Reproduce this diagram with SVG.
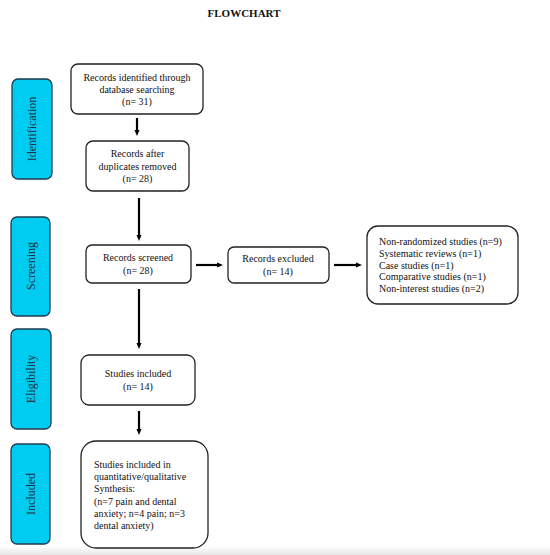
<svg xmlns="http://www.w3.org/2000/svg" width="550" height="555" viewBox="0 0 550 555">
<defs>
<style>
.box{fill:#fff;stroke:#222;stroke-width:1.3}
.side{fill:#00CCF2;stroke:#1d3d4d;stroke-width:1.3}
.t{font-family:"Liberation Serif","Times New Roman",serif;font-size:10px;fill:#111}
.c{text-anchor:middle}
.s{font-family:"Liberation Serif","Times New Roman",serif;font-size:12px;fill:#1f2f3f;text-anchor:middle}
.ln{stroke:#000;stroke-width:2.2;fill:none}
</style>
<marker id="ah" markerWidth="6" markerHeight="6" refX="3" refY="3" orient="auto" markerUnits="userSpaceOnUse">
<path d="M0,0.5 L6,3 L0,5.5 Z" fill="#000"/>
</marker>
<linearGradient id="bot" x1="0" y1="0" x2="0" y2="1">
<stop offset="0" stop-color="#fff"/>
<stop offset="1" stop-color="#e6e6e6"/>
</linearGradient>
</defs>
<rect x="0" y="0" width="550" height="555" fill="#fff"/>
<rect x="0" y="546" width="550" height="9" fill="url(#bot)"/>
<text x="244" y="17" font-family="Liberation Serif,serif" font-size="11px" font-weight="bold" text-anchor="middle" fill="#111">FLOWCHART</text>

<g id="side-identification"><rect class="side" x="12" y="79" width="40" height="100" rx="6"/><text class="s" transform="translate(36,129) rotate(-90)">Identification</text></g>
<g id="side-screening"><rect class="side" x="11" y="217" width="39" height="99" rx="6"/><text class="s" transform="translate(35,266) rotate(-90)">Screening</text></g>
<g id="side-eligibility"><rect class="side" x="11" y="329" width="40" height="100" rx="6"/><text class="s" transform="translate(35,379) rotate(-90)">Eligibility</text></g>
<g id="side-included"><rect class="side" x="11" y="444" width="39" height="100" rx="6"/><text class="s" transform="translate(35,494) rotate(-90)">Included</text></g>

<g id="connectors">
<line class="ln" x1="137" y1="118" x2="137" y2="133" marker-end="url(#ah)"/>
<line class="ln" x1="139" y1="198" x2="139" y2="238" marker-end="url(#ah)"/>
<line class="ln" x1="139" y1="289" x2="139" y2="346" marker-end="url(#ah)"/>
<line class="ln" x1="139" y1="411" x2="139" y2="432" marker-end="url(#ah)"/>
<line class="ln" x1="196" y1="265" x2="220" y2="265" marker-end="url(#ah)"/>
<line class="ln" x1="334" y1="265" x2="359" y2="265" marker-end="url(#ah)"/>
</g>

<g id="n1"><rect class="box" x="71" y="64" width="132" height="50" rx="7"/>
<text class="t c" x="137" y="81">Records identified through</text>
<text class="t c" x="137" y="93">database searching</text>
<text class="t c" x="137" y="105">(n= 31)</text></g>

<g id="n2"><rect class="box" x="86" y="141" width="103" height="50" rx="7"/>
<text class="t c" x="137.5" y="157">Records after</text>
<text class="t c" x="137.5" y="170">duplicates removed</text>
<text class="t c" x="137.5" y="182">(n= 28)</text></g>

<g id="n3"><rect class="box" x="86" y="245" width="105" height="38" rx="6"/>
<text class="t c" x="138" y="261">Records screened</text>
<text class="t c" x="138" y="274">(n= 28)</text></g>

<g id="n4"><rect class="box" x="228" y="247" width="101" height="36" rx="6"/>
<text class="t c" x="278" y="262">Records excluded</text>
<text class="t c" x="278" y="275">(n= 14)</text></g>

<g id="n5"><rect class="box" x="367" y="226" width="151" height="78" rx="11"/>
<text class="t" x="379" y="245">Non-randomized studies (n=9)</text>
<text class="t" x="379" y="257">Systematic reviews (n=1)</text>
<text class="t" x="379" y="269">Case studies (n=1)</text>
<text class="t" x="379" y="280">Comparative studies (n=1)</text>
<text class="t" x="379" y="292">Non-interest studies (n=2)</text></g>

<g id="n6"><rect class="box" x="81" y="355" width="114" height="50" rx="8"/>
<text class="t c" x="138" y="377">Studies included</text>
<text class="t c" x="138" y="390">(n= 14)</text></g>

<g id="n7"><rect class="box" x="81" y="441" width="127" height="107" rx="15"/>
<text class="t" x="94" y="468">Studies included in</text>
<text class="t" x="94" y="480">quantitative/qualitative</text>
<text class="t" x="94" y="492">Synthesis:</text>
<text class="t" x="94" y="505">(n=7 pain and dental</text>
<text class="t" x="94" y="517">anxiety; n=4 pain; n=3</text>
<text class="t" x="94" y="529">dental anxiety)</text></g>
</svg>
